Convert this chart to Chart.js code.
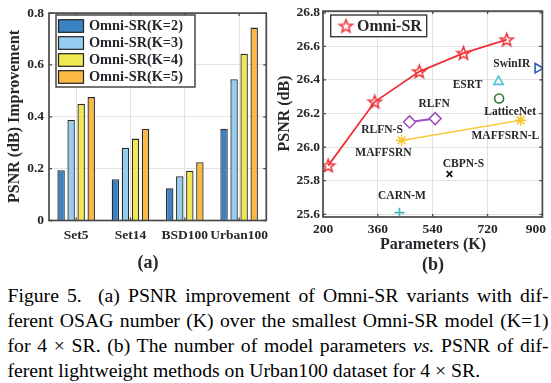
<!DOCTYPE html>
<html><head><meta charset="utf-8">
<script src="https://cdn.jsdelivr.net/npm/chart.js@4.4.1/dist/chart.umd.min.js"></script>
<style>
html,body{margin:0;padding:0;background:#fff;width:551px;height:383px;overflow:hidden}
#ca{position:absolute;left:0;top:0}
#cb{position:absolute;left:270px;top:0}
#cap{position:absolute;left:7.5px;top:283px;width:541px;font-family:"Liberation Serif","Times New Roman",serif;font-size:19.7px;line-height:25px;color:#000}
#cap div{text-align:justify;text-align-last:justify}
#cap div.last{text-align-last:left}
</style></head><body>
<canvas id="ca" width="276" height="280"></canvas>
<canvas id="cb" width="281" height="280"></canvas>
<div id="cap">
<div>Figure 5.&nbsp; (a) PSNR improvement of Omni-SR variants with dif-</div>
<div>ferent OSAG number (K) over the smallest Omni-SR model (K=1)</div>
<div>for 4 × SR. (b) The number of model parameters <i>vs.</i> PSNR of dif-</div>
<div class="last">ferent lightweight methods on Urban100 dataset for 4 × SR.</div>
</div>
<script>
// ---------- data (a) ----------
const categories = ['Set5', 'Set14', 'BSD100', 'Urban100'];
const seriesNames = ['Omni-SR(K=2)', 'Omni-SR(K=3)', 'Omni-SR(K=4)', 'Omni-SR(K=5)'];
const k2 = [0.194, 0.159, 0.124, 0.354];
const k3 = [0.388, 0.281, 0.171, 0.545];
const k4 = [0.450, 0.316, 0.192, 0.643];
const k5 = [0.476, 0.354, 0.225, 0.744];
const yTicksA = [0, 0.2, 0.4, 0.6, 0.8];
const yTickLabelsA = ['0', '0.2', '0.4', '0.6', '0.8'];

// ---------- data (b) ----------
const omniParams = [197, 350, 496, 641, 783];
const omniPsnr = [25.89, 26.27, 26.45, 26.56, 26.64];
const rlfnNames = ['RLFN-S', 'RLFN'];
const rlfnParams = [464, 548];
const rlfnPsnr = [26.15, 26.17];
const maffNames = ['MAFFSRN', 'MAFFSRN-L'];
const maffParams = [438, 829];
const maffPsnr = [26.04, 26.16];
const singleNames = ['SwinIR', 'ESRT', 'LatticeNet', 'CBPN-S', 'CARN-M'];
const singleParams = [885, 756, 758, 595, 431];
const singlePsnr = [26.47, 26.39, 26.29, 25.84, 25.61];
const xTicksB = [180, 360, 540, 720, 900];
const xTickLabelsB = ['200', '360', '540', '720', '900'];
const yTicksB = [25.6, 25.8, 26.0, 26.2, 26.4, 26.6, 26.8];
const yTickLabelsB = ['25.6', '25.8', '26.0', '26.2', '26.4', '26.6', '26.8'];

// ---------- styles ----------
const FONT = '"Liberation Serif","Times New Roman",serif';
const TXT = '#26262c';
const FRAME = '#4a4a4a';
const GRID = '#e2e2e2';
const barColors = ['#3b82c4', '#94cdef', '#efe94f', '#fbb843'];
const singleStyles = [
  {style: 'triangle', rot: 90, color: '#2f5fb3', r: 5.5},
  {style: 'triangle', rot: 0, color: '#4fc3d6', r: 5.5},
  {style: 'circle', rot: 0, color: '#2a7a3b', r: 4.5},
  {style: 'crossRot', rot: 0, color: '#111111', r: 4},
  {style: 'cross', rot: 0, color: '#3bbcbc', r: 5}
];
// label offsets (px) relative to the marker
const labelOffsets = {
  'SwinIR': [-26, -4], 'ESRT': [-31, 3.7], 'RLFN': [-1, -14.6], 'LatticeNet': [11, 13.3],
  'RLFN-S': [-27.5, 8], 'MAFFSRN-L': [-15.4, 15.7], 'MAFFSRN': [-18.2, 12.6],
  'CBPN-S': [14, -10], 'CARN-M': [2.5, -16.6]
};

function makeStar(r, color, lw) {
  const c = document.createElement('canvas');
  const s = Math.ceil(2 * r + lw * 2 + 2);
  c.width = c.height = s;
  const g = c.getContext('2d');
  g.translate(s / 2, s / 2 + 0.5);
  g.beginPath();
  for (let i = 0; i < 10; i++) {
    const rr = i % 2 ? r * 0.42 : r;
    const a = -Math.PI / 2 + i * Math.PI / 5;
    g.lineTo(rr * Math.cos(a), rr * Math.sin(a));
  }
  g.closePath();
  g.strokeStyle = color; g.lineWidth = lw; g.lineJoin = 'miter';
  g.stroke();
  return c;
}
const OMNI_RED = '#ee3338';
const starImg = makeStar(6.8, OMNI_RED, 1.6);

function framePlugin() {
  return {
    id: 'frame',
    afterDatasetsDraw(chart) {
      const {ctx, chartArea: a} = chart;
      const xs = chart.scales.x, ys = chart.scales.y;
      ctx.save();
      ctx.strokeStyle = FRAME; ctx.lineWidth = 1.3;
      ctx.beginPath();
      xs.ticks.forEach((t, i) => {
        const p = xs.getPixelForTick(i);
        ctx.moveTo(p, a.bottom); ctx.lineTo(p, a.bottom - 3);
        ctx.moveTo(p, a.top); ctx.lineTo(p, a.top + 3);
      });
      ys.ticks.forEach((t, i) => {
        const p = ys.getPixelForTick(i);
        ctx.moveTo(a.left, p); ctx.lineTo(a.left + 3, p);
        ctx.moveTo(a.right, p); ctx.lineTo(a.right - 3, p);
      });
      ctx.stroke();
      ctx.lineWidth = 1.7;
      ctx.strokeRect(a.left, a.top, a.right - a.left, a.bottom - a.top);
      ctx.restore();
    }
  };
}

function text(ctx, s, x, y, size, align, rot) {
  ctx.save();
  ctx.font = 'bold ' + size + 'px ' + FONT;
  ctx.fillStyle = TXT;
  ctx.textAlign = align || 'center';
  ctx.textBaseline = 'middle';
  ctx.translate(x, y);
  if (rot) ctx.rotate(rot);
  ctx.fillText(s, 0, 0);
  ctx.restore();
}

// ---------- chart (a) ----------
const dataA = [k2, k3, k4, k5];
new Chart(document.getElementById('ca'), {
  type: 'bar',
  data: {
    labels: categories,
    datasets: seriesNames.map((n, i) => ({
      label: n, data: dataA[i], backgroundColor: barColors[i],
      borderColor: '#2b2b2b', borderWidth: 1.3,
      categoryPercentage: 0.74, barPercentage: 0.74
    }))
  },
  options: {
    responsive: false, animation: false, devicePixelRatio: 1,
    layout: {padding: {left: 0, right: 8, top: 7.5, bottom: 0}},
    plugins: {legend: {display: false}, tooltip: {enabled: false}},
    scales: {
      x: {
        grid: {color: GRID, lineWidth: 1, drawTicks: false, offset: false},
        border: {display: false},
        ticks: {color: TXT, font: {family: FONT, weight: 'bold', size: 13.5}, padding: 7, maxRotation: 0, autoSkip: false},
        afterFit(s) { s.height = 280 - 220.5; }
      },
      y: {
        min: 0, max: 0.8,
        afterBuildTicks(s) { s.ticks = yTicksA.map(v => ({value: v})); },
        grid: {color: GRID, lineWidth: 1, drawTicks: false},
        border: {display: false},
        ticks: {color: TXT, font: {family: FONT, weight: 'bold', size: 13.5}, padding: 5,
          callback: (v, i) => yTickLabelsA[i]},
        afterFit(s) { s.width = 49; }
      }
    }
  },
  plugins: [framePlugin(), {
    id: 'decorA',
    afterDraw(chart) {
      const ctx = chart.ctx;
      text(ctx, 'PSNR (dB) Improvement', 15, 116.5, 16, 'center', -Math.PI / 2);
      text(ctx, '(a)', 148, 263, 18, 'center');
      // legend
      ctx.save();
      ctx.fillStyle = '#fff';
      ctx.fillRect(56, 15, 139, 72);
      ctx.strokeStyle = '#3a3a3a'; ctx.lineWidth = 1.4;
      ctx.strokeRect(56, 15, 139, 72);
      chart.data.datasets.forEach((ds, i) => {
        const cy = 26 + 17 * i;
        ctx.fillStyle = ds.backgroundColor;
        ctx.fillRect(58.5, cy - 6.3, 25, 12.6);
        ctx.strokeStyle = '#222'; ctx.lineWidth = 1.2;
        ctx.strokeRect(58.5, cy - 6.3, 25, 12.6);
        text(ctx, ds.label, 89, cy + 0.5, 14.3, 'left');
      });
      ctx.restore();
    }
  }]
});

// ---------- chart (b) ----------
const pts = (xs, ys) => xs.map((x, i) => ({x: x, y: ys[i]}));
const dsB = [
  {label: 'Omni-SR', data: pts(omniParams, omniPsnr), showLine: true, borderColor: OMNI_RED, borderWidth: 1.8,
    pointStyle: starImg, pointRadius: 6.8},
  {label: 'RLFN', names: rlfnNames, data: pts(rlfnParams, rlfnPsnr), showLine: true, borderColor: '#a150bd', borderWidth: 2,
    pointStyle: 'rectRot', pointRadius: 6, pointBorderWidth: 1.6, pointBackgroundColor: '#fff', pointBorderColor: '#a150bd'},
  {label: 'MAFFSRN', names: maffNames, data: pts(maffParams, maffPsnr), showLine: true, borderColor: '#f6cc3e', borderWidth: 1.6,
    pointStyle: 'star', pointRadius: 5.5, pointBorderWidth: 1.6, pointBorderColor: '#f6c733'}
].concat(singleNames.map((n, i) => ({
  label: n, names: [n], data: [{x: singleParams[i], y: singlePsnr[i]}], showLine: false,
  pointStyle: singleStyles[i].style, rotation: singleStyles[i].rot, pointRadius: singleStyles[i].r,
  pointBorderColor: singleStyles[i].color, pointBackgroundColor: 'rgba(0,0,0,0)', pointBorderWidth: 1.6
})));

new Chart(document.getElementById('cb'), {
  type: 'scatter',
  data: {datasets: dsB},
  options: {
    responsive: false, animation: false, devicePixelRatio: 1,
    layout: {padding: {left: 0, right: 8, top: 7.3, bottom: 0}},
    plugins: {legend: {display: false}, tooltip: {enabled: false}},
    scales: {
      x: {
        type: 'linear', min: 180, max: 900,
        afterBuildTicks(s) { s.ticks = xTicksB.map(v => ({value: v})); },
        grid: {color: GRID, lineWidth: 1, drawTicks: false},
        border: {display: false},
        ticks: {display: false},
        afterFit(s) { s.height = 280 - 217; }
      },
      y: {
        type: 'linear', min: 25.584, max: 26.81,
        afterBuildTicks(s) { s.ticks = yTicksB.map(v => ({value: v})); },
        grid: {color: GRID, lineWidth: 1, drawTicks: false},
        border: {display: false},
        ticks: {color: TXT, font: {family: FONT, weight: 'bold', size: 13.5}, padding: 3,
          callback: (v, i) => yTickLabelsB[i]},
        afterFit(s) { s.width = 53; }
      }
    }
  },
  plugins: [framePlugin(), {
    id: 'decorB',
    afterDraw(chart) {
      const ctx = chart.ctx;
      const xs = chart.scales.x, ys = chart.scales.y;
      const a = chart.chartArea;
      // x tick labels (keep last one inside the figure)
      ctx.save();
      ctx.font = 'bold 13.5px ' + FONT;
      xTicksB.forEach((v, i) => {
        const p = xs.getPixelForValue(v);
        const w = ctx.measureText(xTickLabelsB[i]).width;
        const cx = Math.min(p, chart.width - 5 - w / 2);
        text(ctx, xTickLabelsB[i], cx, a.bottom + 12.5, 13.5, 'center');
      });
      ctx.restore();
      text(ctx, 'PSNR (dB)', 15, 113.5, 16, 'center', -Math.PI / 2);
      text(ctx, 'Parameters (K)', 163, 245, 16, 'center');
      text(ctx, '(b)', 163, 265, 18, 'center');
      // point labels
      chart.data.datasets.forEach(ds => {
        if (!ds.names) return;
        ds.data.forEach((d, j) => {
          const n = ds.names[j];
          const off = labelOffsets[n];
          text(ctx, n, xs.getPixelForValue(d.x) + off[0], ys.getPixelForValue(d.y) + off[1], 11.5, 'center');
        });
      });
      // legend
      ctx.save();
      ctx.fillStyle = '#fff';
      ctx.fillRect(60.7, 15, 96, 21.7);
      ctx.strokeStyle = '#3a3a3a'; ctx.lineWidth = 1.4;
      ctx.strokeRect(60.7, 15, 96, 21.7);
      ctx.drawImage(starImg, 76 - starImg.width / 2, 26 - starImg.height / 2);
      text(ctx, chart.data.datasets[0].label, 87, 26.5, 16, 'left');
      ctx.restore();
    }
  }]
});
</script>
</body></html>
